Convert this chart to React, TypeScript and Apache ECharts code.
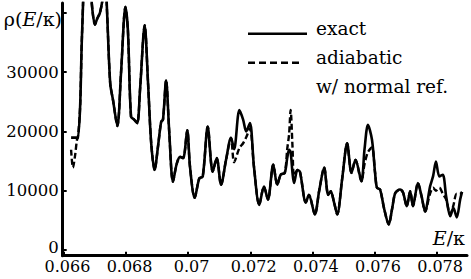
import React, { useEffect, useRef } from "react";
import * as echarts from "echarts";

// Energy grid E/κ
const energy = [
  0.06623, 0.06629, 0.06636, 0.06642, 0.06645, 0.06652, 0.06658, 0.06674, 0.06689, 0.067,
  0.06707, 0.06716, 0.06726, 0.06732, 0.06739, 0.06749, 0.06758, 0.06772, 0.06784, 0.06798,
  0.06806, 0.06816, 0.06826, 0.06836, 0.06845, 0.0686, 0.06871, 0.06881, 0.06892, 0.06903,
  0.06913, 0.06919, 0.06929, 0.06939, 0.06951, 0.06963, 0.06974, 0.06984, 0.06997, 0.07006,
  0.07021, 0.07036, 0.07047, 0.07063, 0.07079, 0.07092, 0.07106, 0.07122, 0.07138, 0.07148,
  0.07165, 0.07177, 0.07187, 0.07199, 0.07212, 0.07229, 0.07244, 0.07257, 0.07274, 0.07287,
  0.07298, 0.07311, 0.07319, 0.07325, 0.0733, 0.07336, 0.07341, 0.07352, 0.0736, 0.07379,
  0.07389, 0.07408, 0.07422, 0.07438, 0.07451, 0.07459, 0.0747, 0.0748, 0.07496, 0.07512,
  0.07526, 0.07539, 0.07558, 0.07568, 0.07579, 0.07592, 0.07602, 0.07608, 0.07618, 0.07631,
  0.07646, 0.07657, 0.07667, 0.07682, 0.07692, 0.07704, 0.07715, 0.07724, 0.0774, 0.07752,
  0.07763, 0.07779, 0.07789, 0.07798, 0.07809, 0.0782, 0.07831, 0.07844, 0.07854, 0.07865,
  0.07876, 0.07882,
];

// exact density of states
const exactValues = [
  18950, 18950, 18950, 18950, 18950, 24000, 36000, 55000, 42000, 38000,
  39000, 40000, 43000, 48000, 40000, 28100, 25300, 20900, 30000, 41000,
  37000, 22500, 22000, 21400, 27000, 37900, 28000, 18000, 13500, 17500,
  21600, 22000, 28600, 20000, 11500, 14500, 15700, 15500, 20200, 14000,
  8800, 12100, 12400, 20800, 13200, 15500, 11000, 15200, 18900, 17000,
  23600, 22000, 20000, 21400, 14000, 7600, 10700, 8500, 14400, 11000,
  12700, 13000, 15500, 16900, 16500, 13000, 11300, 13500, 13200, 8000,
  9300, 6000, 10000, 13900, 9300, 9900, 8000, 6000, 12000, 18000,
  13000, 15200, 11600, 17000, 21100, 18600, 13000, 10500, 10200, 7000,
  4300, 7000, 9600, 10200, 9700, 7400, 9900, 7400, 11300, 9000,
  6500, 10700, 12500, 14900, 12400, 12700, 9000, 5700, 7100, 5500,
  8500, 9800,
];

// adiabatic w/ normal reflection
const adiabaticValues = [
  16900, 13900, 16000, 18600, 18950, 24000, 36000, 55000, 42000, 38000,
  39000, 40000, 43000, 48000, 40000, 28100, 25300, 20900, 30000, 41000,
  37000, 22500, 22000, 21400, 27000, 37900, 28000, 18000, 13500, 17500,
  21600, 22000, 28600, 20000, 11500, 14500, 15700, 15500, 20200, 14000,
  8800, 12100, 12400, 20800, 13200, 15500, 11000, 15200, 18900, 14800,
  17200, 18000, 19000, 20500, 14000, 7600, 10700, 8500, 14400, 11000,
  12700, 13000, 17000, 19500, 23600, 17500, 12500, 13500, 13200, 8000,
  9300, 6000, 10000, 13900, 9300, 9900, 8000, 6000, 12000, 18000,
  13000, 15200, 11600, 14500, 16500, 17300, 13000, 10500, 10200, 7000,
  4300, 7000, 9600, 10200, 9700, 7400, 9900, 7400, 11300, 9000,
  6500, 9500, 10500, 10000, 10500, 9500, 8500, 6000, 7500, 9500,
  9500, 9800,
];

const xTicks = [0.066, 0.068, 0.07, 0.072, 0.074, 0.076, 0.078];
const yTicks = [0, 10000, 20000, 30000, 40000];
const yLabels = [0, 10000, 20000, 30000];
const legendNames = ["exact", "adiabatic", "w/ normal ref."];

const FONT = "DejaVu Serif";

export default function App() {
  const ref = useRef<HTMLDivElement>(null);
  useEffect(() => {
    const chart = echarts.init(ref.current!, null, { renderer: "svg" });
    chart.setOption({
      animation: false,
      textStyle: { fontFamily: FONT },
      grid: { left: 62.7, right: 4, top: 3, bottom: 23.3 },
      xAxis: {
        type: "value",
        min: 0.06596,
        max: 0.07898,
        axisLine: { onZero: false, lineStyle: { color: "#000", width: 3 } },
        axisTick: { inside: true, length: 4, customValues: xTicks, lineStyle: { color: "#000", width: 2 } },
        axisLabel: {
          customValues: xTicks,
          color: "#000",
          fontFamily: FONT,
          fontSize: 16,
          margin: 3,
          padding: [0, 0, 0, 7],
          formatter: (v: number) => String(v),
        },
        splitLine: { show: false },
      },
      yAxis: {
        type: "value",
        min: -960,
        max: 41650,
        axisLine: { onZero: false, lineStyle: { color: "#000", width: 3 } },
        axisTick: { inside: true, length: 4, customValues: yTicks, lineStyle: { color: "#000", width: 2 } },
        axisLabel: {
          customValues: yLabels,
          color: "#000",
          fontFamily: FONT,
          fontSize: 16.5,
          margin: 4,
          formatter: (v: number) => (v === 0 ? "{z|0}" : String(v)),
          rich: { z: { fontFamily: FONT, fontSize: 16.5, color: "#000", padding: [0, 0, 5, 0] } },
        },
        splitLine: { show: false },
      },
      series: [
        {
          name: "adiabatic w/ normal ref.",
          type: "line",
          data: energy.map((e, i) => [e, adiabaticValues[i]]),
          symbol: "none",
          smooth: 0.3,
          lineStyle: { color: "#000", width: 2.4, type: [6, 3] },
          z: 2,
        },
        {
          name: "exact",
          type: "line",
          data: energy.map((e, i) => [e, exactValues[i]]),
          symbol: "none",
          smooth: 0.3,
          lineStyle: { color: "#000", width: 2.6 },
          z: 3,
        },
      ],
      graphic: [
        { type: "line", shape: { x1: 248, y1: 33.7, x2: 307, y2: 33.7 }, style: { stroke: "#000", lineWidth: 2.6 } },
        { type: "line", shape: { x1: 248, y1: 62.8, x2: 303, y2: 62.8 }, style: { stroke: "#000", lineWidth: 2.6, lineDash: [7, 4] } },
        { type: "text", x: 316, y: 28.6, style: { text: legendNames[0], fill: "#000", fontFamily: FONT, fontSize: 18.5, verticalAlign: "middle", align: "left" } },
        { type: "text", x: 316, y: 57.6, style: { text: legendNames[1], fill: "#000", fontFamily: FONT, fontSize: 18.5, verticalAlign: "middle", align: "left" } },
        { type: "text", x: 316, y: 86.6, style: { text: legendNames[2], fill: "#000", fontFamily: FONT, fontSize: 18.5, verticalAlign: "middle", align: "left" } },
        {
          type: "text",
          x: 62,
          y: 19,
          style: {
            text: "{a|ρ(}{b|E}{a|/κ)}",
            align: "right",
            verticalAlign: "middle",
            fill: "#000",
            fontFamily: FONT,
            fontSize: 19,
            rich: {
              a: { fontFamily: FONT, fontSize: 19, fill: "#000" },
              b: { fontFamily: FONT, fontSize: 19, fontStyle: "italic", fill: "#000" },
            },
          },
        },
        {
          type: "text",
          x: 465,
          y: 238,
          style: {
            text: "{b|E}{a|/κ}",
            align: "right",
            verticalAlign: "middle",
            fill: "#000",
            fontFamily: FONT,
            fontSize: 19,
            rich: {
              a: { fontFamily: FONT, fontSize: 19, fill: "#000" },
              b: { fontFamily: FONT, fontSize: 19, fontStyle: "italic", fill: "#000" },
            },
          },
        },
      ],
    });
    return () => chart.dispose();
  }, []);
  return (
    <div
      ref={ref}
      style={{ position: "fixed", left: 0, top: 0, width: 471, height: 279, background: "#fff" }}
    />
  );
}
